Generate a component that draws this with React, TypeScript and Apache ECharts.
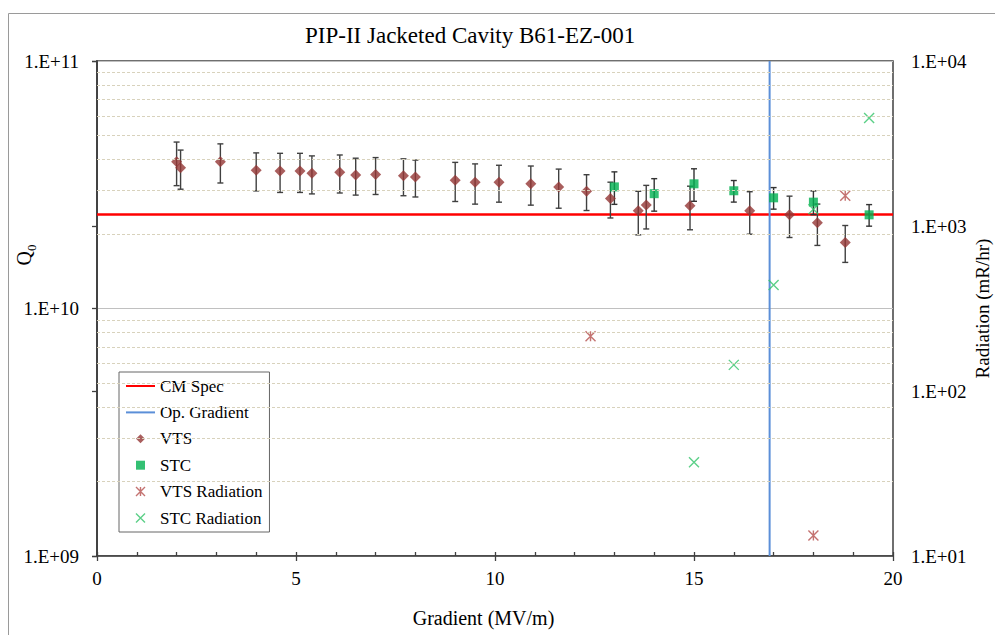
import React, { useEffect, useRef } from "react";
import * as echarts from "echarts";

// ---- data ----
const TITLE = "PIP-II Jacketed Cavity B61-EZ-001";
const X_TICKS_MIN = 0;
const X_TICKS_MAX = 20;

const VTS_X = [2.0, 2.1, 3.1, 4.0, 4.6, 5.1, 5.4, 6.1, 6.5, 7.0, 7.7, 8.0, 9.0, 9.5, 10.1, 10.9, 11.6, 12.3, 12.9, 13.6, 13.8, 14.9, 16.4, 17.4, 18.1, 18.8];
const VTS_Q = [3.92e10, 3.7e10, 3.92e10, 3.62e10, 3.59e10, 3.59e10, 3.52e10, 3.55e10, 3.46e10, 3.48e10, 3.44e10, 3.4e10, 3.3e10, 3.24e10, 3.24e10, 3.19e10, 3.1e10, 2.98e10, 2.78e10, 2.48e10, 2.62e10, 2.6e10, 2.48e10, 2.39e10, 2.22e10, 1.85e10];
const VTS_ERR = [0.2, 0.18, 0.18, 0.175, 0.18, 0.18, 0.175, 0.175, 0.17, 0.17, 0.17, 0.17, 0.18, 0.185, 0.17, 0.18, 0.18, 0.165, 0.165, 0.2, 0.2, 0.2, 0.195, 0.19, 0.19, 0.17];

const STC_X = [13.0, 14.0, 15.0, 16.0, 17.0, 18.0, 19.4];
const STC_Q = [3.1e10, 2.91e10, 3.19e10, 2.99e10, 2.8e10, 2.69e10, 2.39e10];
const STC_ERR = [0.15, 0.15, 0.15, 0.1, 0.1, 0.11, 0.1];

const VTS_RAD_X = [12.4, 18.0, 18.8];
const VTS_RAD = [215, 13.3, 1526];

const STC_RAD_X = [15.0, 16.0, 17.0, 18.0, 19.4];
const STC_RAD = [37, 144, 439, 1262, 4513];

const CM_SPEC = 2.4e10;
const OP_GRADIENT = 16.9;

const Q_MIN = 1e9;
const Q_MAX = 1e11;
const RAD_MIN = 10;
const RAD_MAX = 1e4;
const MINOR_GRID = [2e9, 3e9, 4e9, 5e9, 6e9, 7e9, 8e9, 9e9, 2e10, 3e10, 4e10, 5e10, 6e10, 7e10, 8e10, 9e10];

const FONT = "'Liberation Serif', 'Times New Roman', serif";

const C_SPEC = "#ff0000";
const C_OP = "#5b8fd8";
const C_VTS = "#943634";
const C_STC = "#00b050";
const C_VTS_RAD = "#b5504d";
const C_STC_RAD = "#33c46a";

const expLabel = (v: number) => {
  const e = Math.round(Math.log10(v));
  return "1.E" + (e >= 0 ? "+" : "-") + String(Math.abs(e)).padStart(2, "0");
};

const errorBarSeries = (name: string, xs: number[], ys: number[], errs: number[], color: string) => ({
  type: "custom",
  name,
  xAxisIndex: 0,
  yAxisIndex: 0,
  z: 3,
  silent: true,
  data: xs.map((x, i) => [x, ys[i], ys[i] * (1 - errs[i]), ys[i] * (1 + errs[i])]),
  encode: { x: 0, y: [2, 3] },
  renderItem: (_params: any, api: any) => {
    const x = api.value(0);
    const lo = api.value(2);
    const hi = api.value(3);
    const top = api.coord([x, hi]);
    const bot = api.coord([x, lo]);
    const w = 3;
    const style = { stroke: color, lineWidth: 1.4 };
    return {
      type: "group",
      children: [
        { type: "line", shape: { x1: top[0], y1: top[1], x2: bot[0], y2: bot[1] }, style },
        { type: "line", shape: { x1: top[0] - w, y1: top[1], x2: top[0] + w, y2: top[1] }, style },
        { type: "line", shape: { x1: bot[0] - w, y1: bot[1], x2: bot[0] + w, y2: bot[1] }, style },
      ],
    };
  },
});

const ASTERISK = "path://M0,0 L10,10 M10,0 L0,10 M5,0 L5,10";
const CROSS = "path://M0,0 L10,10 M10,0 L0,10";
const DIAMOND = "path://M5,0 L10,5 L5,10 L0,5 Z";
const SQUARE = "path://M0,0 L10,0 L10,10 L0,10 Z";

const LEGEND_ITEMS = [
  { name: "CM Spec", itemStyle: { color: "rgba(0,0,0,0)", borderWidth: 0, opacity: 0 } },
  { name: "Op. Gradient", itemStyle: { color: "rgba(0,0,0,0)", borderWidth: 0, opacity: 0 } },
  { name: "VTS", icon: DIAMOND, itemStyle: { color: C_VTS, borderWidth: 0 } },
  { name: "STC", icon: SQUARE, itemStyle: { color: C_STC, borderWidth: 0 } },
  { name: "VTS Radiation", icon: ASTERISK, itemStyle: { color: "rgba(0,0,0,0)", borderColor: C_VTS_RAD, borderWidth: 1.4 } },
  { name: "STC Radiation", icon: CROSS, itemStyle: { color: "rgba(0,0,0,0)", borderColor: C_STC_RAD, borderWidth: 1.4 } },
];

export default function App() {
  const ref = useRef<HTMLDivElement>(null);

  useEffect(() => {
    if (!ref.current) return;
    const chart = echarts.init(ref.current, undefined, { renderer: "svg" });
    const axisColor = "#404040";
    const option: any = {
      animation: false,
      backgroundColor: "#fff",
      title: {
        text: TITLE,
        left: 305,
        top: 24,
        padding: 0,
        textStyle: { fontFamily: FONT, fontSize: 23, fontWeight: "normal", color: "#000" },
      },
      grid: {
        left: 97,
        top: 61,
        width: 796,
        height: 495,
        show: true,
        borderColor: axisColor,
        borderWidth: 1.5,
        backgroundColor: "transparent",
        outerBoundsMode: "none",
        containLabel: false,
      },
      legend: {
        data: LEGEND_ITEMS,
        orient: "vertical",
        left: 119,
        top: 372,
        padding: [5.5, 7, 5.5, 6],
        itemWidth: 29,
        itemHeight: 9,
        itemGap: 9.4,
        borderColor: "#666",
        borderWidth: 1,
        backgroundColor: "#fff",
        selectedMode: false,
        symbolKeepAspect: true,
        textStyle: { fontFamily: FONT, fontSize: 17, color: "#000", lineHeight: 17 },
      },
      xAxis: [
        {
          type: "value",
          min: X_TICKS_MIN,
          max: X_TICKS_MAX,
          interval: 5,
          position: "bottom",
          name: "Gradient (MV/m)",
          nameLocation: "middle",
          nameGap: 52,
          nameMoveOverlap: false,
          nameTextStyle: { fontFamily: FONT, fontSize: 20, color: "#000", padding: [0, 23, 0, 0] },
          axisLine: { show: true, lineStyle: { color: axisColor, width: 1.5 } },
          axisTick: { show: true, inside: false, length: 5, lineStyle: { color: axisColor, width: 1.3 } },
          axisLabel: { fontFamily: FONT, fontSize: 19, color: "#000", margin: 13 },
          splitLine: { show: false },
        },
        {
          type: "value",
          min: X_TICKS_MIN,
          max: X_TICKS_MAX,
          interval: 1,
          position: "bottom",
          axisLine: { show: false },
          axisTick: { show: true, inside: true, length: 4, lineStyle: { color: axisColor, width: 1.3 } },
          axisLabel: { show: false },
          splitLine: { show: false },
        },
      ],
      yAxis: [
        {
          type: "log",
          logBase: 10,
          min: Q_MIN,
          max: Q_MAX,
          position: "left",
          axisLine: { show: true, lineStyle: { color: axisColor, width: 1.5 } },
          axisTick: { show: true, inside: false, length: 5, lineStyle: { color: axisColor, width: 1.3 } },
          axisLabel: { fontFamily: FONT, fontSize: 19, color: "#000", margin: 18, formatter: expLabel },
          splitLine: { show: true, lineStyle: { color: "#c0c0c0", width: 1 } },
        },
        {
          type: "log",
          logBase: 10,
          min: RAD_MIN,
          max: RAD_MAX,
          position: "right",
          name: "Radiation (mR/hr)",
          nameLocation: "middle",
          nameRotate: 90,
          nameGap: 80,
          nameMoveOverlap: false,
          nameTextStyle: { fontFamily: FONT, fontSize: 19, color: "#000" },
          axisLine: { show: true, lineStyle: { color: axisColor, width: 1.5 } },
          axisTick: { show: true, inside: true, length: 5, lineStyle: { color: axisColor, width: 1.3 } },
          axisLabel: { fontFamily: FONT, fontSize: 19, color: "#000", margin: 18, formatter: expLabel },
          splitLine: { show: false },
        },
      ],
      graphic: [
        {
          type: "rect",
          silent: true,
          shape: { x: 8.5, y: 13.5, width: 1200, height: 1200 },
          style: { fill: "none", stroke: "#9a9a9a", lineWidth: 1 },
          z: -10,
        },
        {
          type: "text",
          silent: true,
          x: 25,
          y: 255,
          rotation: Math.PI / 2,
          style: {
            text: "{q|Q}{s|0}",
            align: "center",
            verticalAlign: "middle",
            rich: {
              q: { fontFamily: FONT, fontSize: 20, color: "#000", lineHeight: 22, verticalAlign: "top" },
              s: { fontFamily: FONT, fontSize: 13, color: "#000", lineHeight: 13, padding: [11, 0, 0, 0], verticalAlign: "top" },
            },
          },
        },
      ],
      series: [
        {
          type: "line",
          name: "minor grid",
          xAxisIndex: 0,
          yAxisIndex: 0,
          data: [],
          z: 1,
          silent: true,
          markLine: {
            silent: true,
            symbol: ["none", "none"],
            label: { show: false },
            animation: false,
            lineStyle: { type: [3, 2], color: "#d8d2bc", width: 1 },
            data: MINOR_GRID.map((v) => ({ yAxis: v })),
          },
        },
        {
          type: "line",
          name: "CM Spec",
          xAxisIndex: 0,
          yAxisIndex: 0,
          symbol: "none",
          z: 2,
          lineStyle: { color: C_SPEC, width: 2.5 },
          itemStyle: { color: C_SPEC },
          data: [
            [X_TICKS_MIN, CM_SPEC],
            [X_TICKS_MAX, CM_SPEC],
          ],
        },
        {
          type: "line",
          name: "Op. Gradient",
          xAxisIndex: 0,
          yAxisIndex: 0,
          symbol: "none",
          z: 2,
          lineStyle: { color: C_OP, width: 2 },
          itemStyle: { color: C_OP },
          data: [
            [OP_GRADIENT, Q_MIN],
            [OP_GRADIENT, Q_MAX],
          ],
        },
        errorBarSeries("VTS error", VTS_X, VTS_Q, VTS_ERR, "#404040"),
        errorBarSeries("STC error", STC_X, STC_Q, STC_ERR, "#333333"),
        {
          type: "scatter",
          name: "VTS",
          xAxisIndex: 0,
          yAxisIndex: 0,
          symbol: "diamond",
          symbolSize: 11,
          z: 4,
          itemStyle: { color: C_VTS },
          data: VTS_X.map((x, i) => [x, VTS_Q[i]]),
        },
        {
          type: "scatter",
          name: "STC",
          xAxisIndex: 0,
          yAxisIndex: 0,
          symbol: "rect",
          symbolSize: 9,
          z: 4,
          itemStyle: { color: C_STC },
          data: STC_X.map((x, i) => [x, STC_Q[i]]),
        },
        {
          type: "scatter",
          name: "VTS Radiation",
          xAxisIndex: 0,
          yAxisIndex: 1,
          symbol: ASTERISK,
          symbolSize: 10,
          z: 4,
          itemStyle: { color: "rgba(0,0,0,0)", borderColor: C_VTS_RAD, borderWidth: 1.4 },
          data: VTS_RAD_X.map((x, i) => [x, VTS_RAD[i]]),
        },
        {
          type: "scatter",
          name: "STC Radiation",
          xAxisIndex: 0,
          yAxisIndex: 1,
          symbol: CROSS,
          symbolSize: 10,
          z: 4,
          itemStyle: { color: "rgba(0,0,0,0)", borderColor: C_STC_RAD, borderWidth: 1.4 },
          data: STC_RAD_X.map((x, i) => [x, STC_RAD[i]]),
        },
      ],
    };
    chart.setOption(option);
    return () => chart.dispose();
  }, []);

  return (
    <div
      ref={ref}
      style={{ position: "absolute", left: 0, top: 0, width: 995, height: 635, background: "#fff" }}
    />
  );
}
